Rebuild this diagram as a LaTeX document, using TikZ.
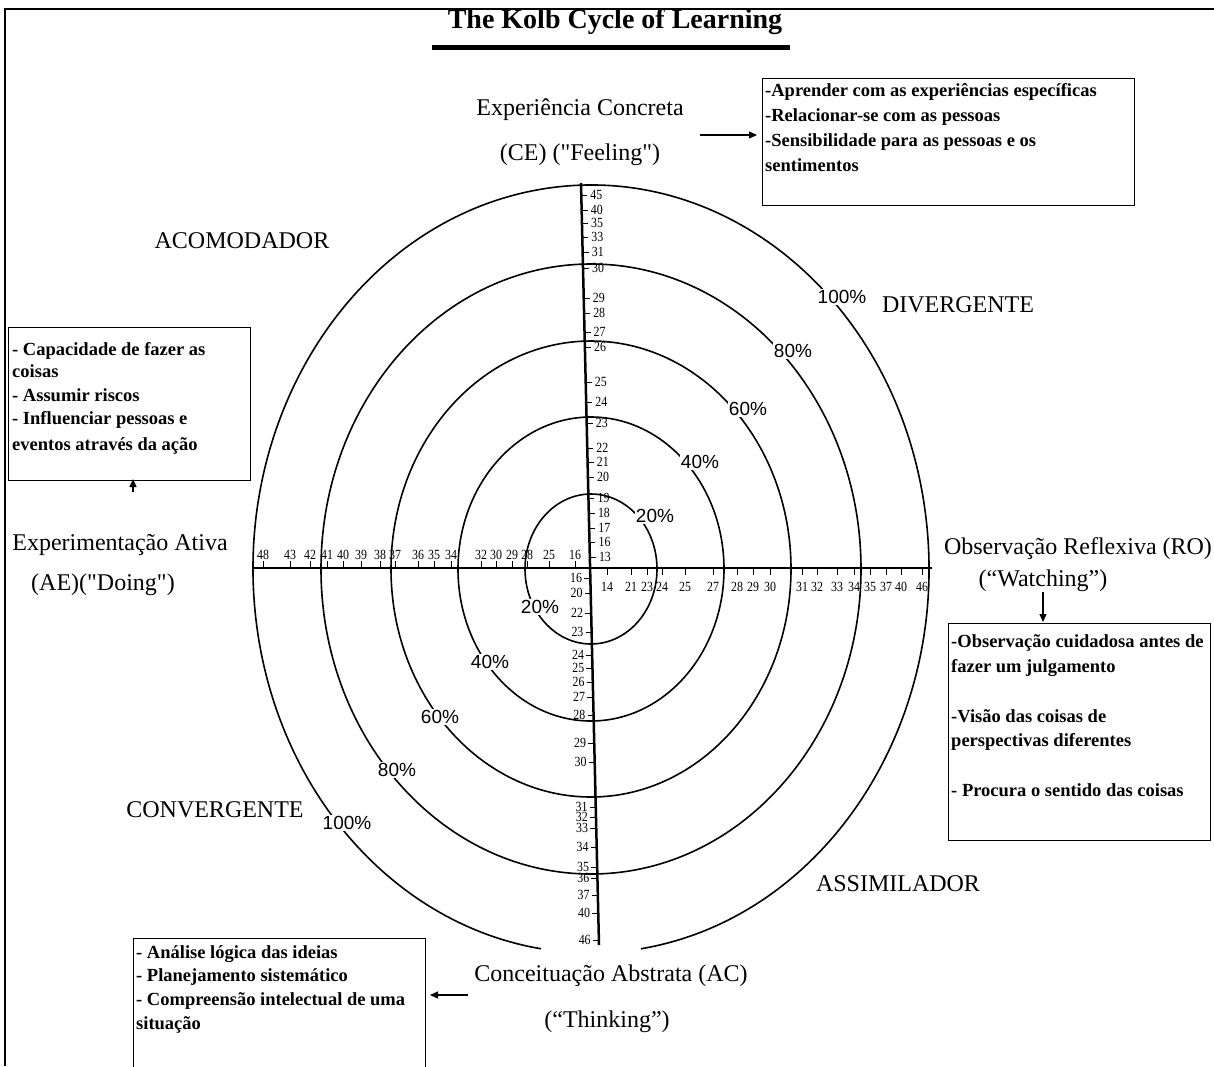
\documentclass[tikz,border=0pt]{standalone}
\usepackage{fontspec}
\setmainfont{Liberation Serif}
\newfontfamily\pctfont{Liberation Sans}
\newfontfamily\tickfont[FakeStretch=0.85]{Liberation Serif}
\usetikzlibrary{arrows.meta}
\begin{document}
\begin{tikzpicture}[x=1pt,y=-1pt,
  titlefont/.style={font=\bfseries\fontsize{28}{30}\selectfont, inner sep=0pt},
  lbl/.style={font=\fontsize{24}{26}\selectfont, inner sep=0pt, text height=16pt, text depth=5pt},
  pct/.style={font=\pctfont\fontsize{19}{21}\selectfont, fill=white, inner sep=1pt},
  tk/.style={font=\tickfont\fontsize{14}{14}\selectfont, inner sep=0pt, text height=9.5pt, text depth=0pt},
  bt/.style={font=\bfseries\fontsize{18.5}{20}\selectfont, anchor=west, inner sep=0pt, text height=12pt, text depth=4pt},
  infobox/.style={draw, line width=1.2pt, anchor=north west, inner sep=0pt},
  circ/.style={line width=1.6pt},
  axisline/.style={line width=2.5pt},
  arr/.style={-{Triangle[length=8pt,width=7pt]}, line width=1.1pt}]
\useasboundingbox (0,0) rectangle (1214,1066);
\fill[white] (0,0) rectangle (1214,1066);
% frame
\coordinate (ftr) at (1214,9); \coordinate (ftl) at (5,9); \coordinate (fbl) at (5,1066);
\draw[line width=1.5pt] (ftr) -- (ftl) -- (fbl);
% title
\node[titlefont] (title) at (615,22) {The Kolb Cycle of Learning};
\coordinate (ul1) at (432,47); \coordinate (ul2) at (790,47);
\draw[line width=5pt] (ul1) -- (ul2);
% ellipses
\coordinate (c) at (591,569);
\foreach \rx/\ry in {66/75,133/152,200/228,270/305}
  \draw[circ] (c) ellipse[x radius=\rx pt, y radius=\ry pt];
\draw[circ] ([shift={(278.5:338pt and 384pt)}]c) arc[start angle=278.5, end angle=621.5, x radius=338pt, y radius=384pt];
% axes
\coordinate (vtop) at (581,183); \coordinate (vbot) at (599,945);
\coordinate (hleft) at (253,568); \coordinate (hright) at (932,568);
\draw[axisline] (vtop) -- (vbot);
\draw[axisline] (hleft) -- (hright);
% vertical upper ticks
\foreach \yy/\t in {195/45,210/40,223/35,237/33,252/31,268/30,298/29,313/28,332/27,347/26,382/25,402/24,423/23,448/22,462/21,477/20,498/19,513/18,528/17,542/16,557/13}{
  \pgfmathsetmacro{\xx}{581+18*(\yy-183)/762}
  \draw[line width=1pt] (\xx,\yy) -- ++(6,0);
  \node[tk,anchor=west] (vu\t) at ({\xx+9},\yy) {\t};
}
% vertical lower ticks
\foreach \yy/\t in {578/16,593/20,613/22,632/23,655/24,668/25,682/26,697/27,715/28,743/29,762/30,807/31,817/32,828/33,847/34,867/35,878/36,895/37,913/40,940/46}{
  \pgfmathsetmacro{\xx}{581+18*(\yy-183)/762}
  \draw[line width=1pt] (\xx,\yy) -- ++(-6,0);
  \node[tk,anchor=east] (vl\t) at ({\xx-8},\yy) {\t};
}
% horizontal left ticks
\foreach \xx/\t in {263/48,290/43,310/42,327/41,343/40,361/39,380/38,395/37,418/36,434/35,451/34,481/32,496/30,512/29,527/28,549/25,575/16}{
  \draw[line width=1pt] (\xx,568) -- ++(0,-7);
  \node[tk,anchor=base] (hl\t) at (\xx,559) {\t};
}
% horizontal right ticks
\foreach \xx/\t in {607/14,631/21,647/23,662/24,685/25,713/27,737/28,753/29,770/30,802/31,817/32,837/33,854/34,870/35,886/37,901/40,922/46}{
  \draw[line width=1pt] (\xx,568) -- ++(0,7);
  \node[tk,anchor=north] (hr\t) at (\xx,582) {\t};
}
% percentages
\node[pct] (p100a) at (842,297) {100\%};
\node[pct] (p80a) at (793,351) {80\%};
\node[pct] (p60a) at (748,409) {60\%};
\node[pct] (p40a) at (700,462) {40\%};
\node[pct] (p20a) at (655,516) {20\%};
\node[pct] (p20b) at (540,607) {20\%};
\node[pct] (p40b) at (490,662) {40\%};
\node[pct] (p60b) at (440,717) {60\%};
\node[pct] (p80b) at (397,770) {80\%};
\node[pct] (p100b) at (347,823) {100\%};
% labels
\node[lbl] (ce1) at (580,110) {Experiência Concreta};
\node[lbl] (ce2) at (580,155) {(CE) (\textquotedbl Feeling\textquotedbl)};
\node[lbl] (acom) at (242,243) {ACOMODADOR};
\node[lbl] (div) at (958,307) {DIVERGENTE};
\node[lbl] (ae1) at (120,545) {Experimentação Ativa};
\node[lbl] (ae2) at (103,585) {(AE)(\textquotedbl Doing\textquotedbl)};
\node[lbl] (ro1) at (1078,549) {Observação Reflexiva (RO)};
\node[lbl] (ro2) at (1043,581) {(“Watching”)};
\node[lbl] (conv) at (215,812) {CONVERGENTE};
\node[lbl] (assim) at (898,886) {ASSIMILADOR};
\node[lbl] (ac1) at (611,976) {Conceituação Abstrata (AC)};
\node[lbl] (ac2) at (607,1022) {(“Thinking”)};
% boxes
\node[infobox, minimum width=372pt, minimum height=127pt] (boxce) at (762,78) {};
\node[infobox, minimum width=242pt, minimum height=153pt] (boxae) at (8,327) {};
\node[infobox, minimum width=262pt, minimum height=217pt] (boxro) at (948,623) {};
\node[infobox, minimum width=292pt, minimum height=140pt] (boxac) at (133,938) {};
% box texts
\node[bt] (t1a) at (765,92) {-Aprender com as experiências específicas};
\node[bt] (t1b) at (765,117) {-Relacionar-se com as pessoas};
\node[bt] (t1c) at (765,142) {-Sensibilidade para as pessoas e os};
\node[bt] (t1d) at (765,167) {sentimentos};
\node[bt] (t2a) at (12,351) {- Capacidade de fazer as};
\node[bt] (t2b) at (12,373) {coisas};
\node[bt] (t2c) at (12,397) {- Assumir riscos};
\node[bt] (t2d) at (12,420) {- Influenciar pessoas e};
\node[bt] (t2e) at (12,446) {eventos através da ação};
\node[bt] (t3a) at (951,643) {-Observação cuidadosa antes de};
\node[bt] (t3b) at (951,668) {fazer um julgamento};
\node[bt] (t3c) at (951,718) {-Visão das coisas de};
\node[bt] (t3d) at (951,742) {perspectivas diferentes};
\node[bt] (t3e) at (951,792) {- Procura o sentido das coisas};
\node[bt] (t4a) at (136,954) {- Análise lógica das ideias};
\node[bt] (t4b) at (136,977) {- Planejamento sistemático};
\node[bt] (t4c) at (136,1001) {- Compreensão intelectual de uma};
\node[bt] (t4d) at (136,1025) {situação};
% arrows
\coordinate (a1s) at (700,135); \coordinate (a1e) at (757,135);
\draw[arr] (a1s) -- (a1e);
\coordinate (a2s) at (133,492); \coordinate (a2e) at (133,479);
\draw[arr] (a2s) -- (a2e);
\coordinate (a3s) at (1043,592); \coordinate (a3e) at (1043,622);
\draw[arr] (a3s) -- (a3e);
\coordinate (a4s) at (468,995); \coordinate (a4e) at (430,995);
\draw[arr] (a4s) -- (a4e);
\end{tikzpicture}
\end{document}
